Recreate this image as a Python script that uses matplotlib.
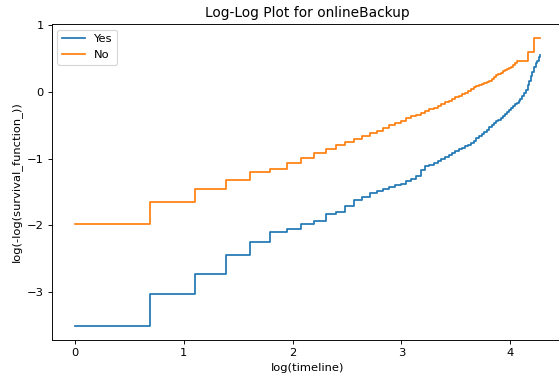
"""Log-log survival plot for the onlineBackup groups."""

from __future__ import annotations

import matplotlib
matplotlib.use("Agg")
import matplotlib.pyplot as plt
import numpy as np

OUT_PNG = "out.png"
DPI = 82.8

# tenure in months (timeline of the fitted Kaplan-Meier curves)
timeline = list(range(1, 73))

# log(-log(S(t))), one value per month
loglog_yes = [
    -3.51, -3.04, -2.74, -2.45, -2.26, -2.11, -2.06, -1.99, -1.94, -1.84,
    -1.80, -1.72, -1.63, -1.58, -1.52, -1.49, -1.46, -1.43, -1.40, -1.38,
    -1.34, -1.30, -1.26, -1.17, -1.11, -1.09, -1.06, -1.04, -1.00, -0.97,
    -0.94, -0.91, -0.89, -0.86, -0.84, -0.81, -0.79, -0.76, -0.73, -0.69,
    -0.66, -0.63, -0.60, -0.57, -0.53, -0.50, -0.47, -0.44, -0.42, -0.39,
    -0.36, -0.33, -0.30, -0.27, -0.24, -0.21, -0.185, -0.16, -0.13, -0.10,
    -0.06, -0.02, 0.03, 0.10, 0.17, 0.24, 0.30, 0.37, 0.43, 0.47,
    0.52, 0.55,
]
loglog_no = [
    -1.99, -1.66, -1.46, -1.32, -1.20, -1.15, -1.06, -0.99, -0.92, -0.85,
    -0.80, -0.75, -0.70, -0.665, -0.62, -0.58, -0.54, -0.50, -0.465, -0.435,
    -0.39, -0.365, -0.34, -0.31, -0.285, -0.26, -0.235, -0.21, -0.185, -0.15,
    -0.13, -0.10, -0.08, -0.06, -0.03, -0.01, 0.01, 0.04, 0.07, 0.09,
    0.11, 0.12, 0.13, 0.15, 0.17, 0.19, 0.22, 0.25, 0.27, 0.29,
    0.31, 0.33, 0.34, 0.36, 0.38, 0.41, 0.44, 0.465, 0.465, 0.465,
    0.465, 0.465, 0.465, 0.605, 0.605, 0.605, 0.605, 0.806, 0.806, 0.806,
    0.806, 0.806,
]
group_labels = ["Yes", "No"]
title = "Log-Log Plot for onlineBackup"


def main() -> None:
    fig = plt.figure(figsize=(559 / DPI, 380 / DPI), dpi=DPI)
    ax = fig.add_axes([0.0925, 0.1053, 0.9157, 0.8316])

    log_t = np.log(timeline)
    for label, values in zip(group_labels, [loglog_yes, loglog_no]):
        ax.plot(log_t, values, drawstyle="steps-post", label=label)

    ax.set_title(title)
    ax.set_xlabel("log(timeline)")
    ax.set_ylabel("log(-log(survival_function_))")
    ax.legend(loc="upper left")

    fig.savefig(OUT_PNG, dpi=DPI)
    plt.close(fig)


if __name__ == "__main__":
    main()
